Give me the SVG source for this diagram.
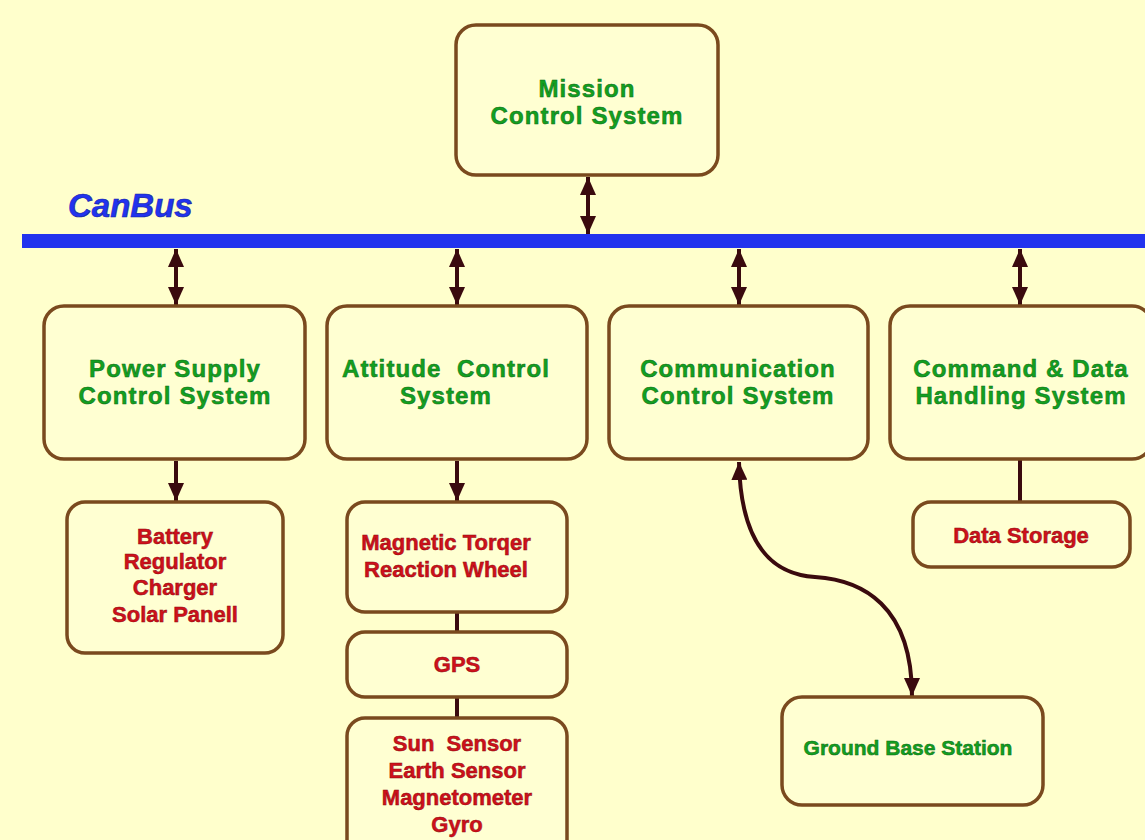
<svg xmlns="http://www.w3.org/2000/svg" width="1145" height="840" viewBox="0 0 1145 840">
<defs>
<style>
.box{fill:#FFFFD2;stroke:#7A4A1E;stroke-width:3.5}
.g{fill:#12A020;stroke:#0B6A14;stroke-width:0.5;font-family:"Liberation Sans",Arial,sans-serif;font-weight:bold;font-size:24px;letter-spacing:1.1px;text-anchor:middle}
.r{fill:#D0101A;stroke:#8A0A10;stroke-width:0.5;font-family:"Liberation Sans",Arial,sans-serif;font-weight:bold;font-size:22px;text-anchor:middle}
.c{stroke:#3A0A0E;stroke-width:4;fill:none}
</style>
<marker id="ah" markerUnits="userSpaceOnUse" viewBox="0 0 18 16" refX="18" refY="8" markerWidth="18" markerHeight="16" orient="auto-start-reverse">
<path d="M0 0 L18 8 L0 16 Z" fill="#3A0A0E"/>
</marker>
</defs>
<rect x="0" y="0" width="1145" height="840" fill="#FFFFCC"/>

<g id="canbus">
<rect x="22" y="234" width="1123" height="14" fill="#2233EE"/>
<text x="68" y="217" font-family="Liberation Sans,Arial,sans-serif" font-weight="bold" font-style="italic" font-size="33" fill="#2233EE" stroke="#1020A0" stroke-width="0.6">CanBus</text>
</g>

<g id="connectors">
<line class="c" x1="588" y1="177" x2="588" y2="234" marker-start="url(#ah)" marker-end="url(#ah)"/>
<line class="c" x1="176" y1="249" x2="176" y2="305" marker-start="url(#ah)" marker-end="url(#ah)"/>
<line class="c" x1="457" y1="249" x2="457" y2="305" marker-start="url(#ah)" marker-end="url(#ah)"/>
<line class="c" x1="739" y1="249" x2="739" y2="305" marker-start="url(#ah)" marker-end="url(#ah)"/>
<line class="c" x1="1020" y1="249" x2="1020" y2="305" marker-start="url(#ah)" marker-end="url(#ah)"/>
<line class="c" x1="176" y1="461" x2="176" y2="501" marker-end="url(#ah)"/>
<line class="c" x1="457" y1="461" x2="457" y2="501" marker-end="url(#ah)"/>
<line class="c" x1="457" y1="612" x2="457" y2="632"/>
<line class="c" x1="457" y1="697" x2="457" y2="718"/>
<line class="c" x1="1020" y1="460" x2="1020" y2="502"/>
<path class="c" stroke-width="3" d="M739 462 C741 560 785 575 815 577 C862 580 912 605 912 696" marker-start="url(#ah)" marker-end="url(#ah)"/>
</g>

<g id="mission">
<rect class="box" x="456" y="25" width="262" height="150" rx="20"/>
<text class="g" x="587" y="97">Mission</text>
<text class="g" x="587" y="124">Control System</text>
</g>

<g id="power">
<rect class="box" x="44" y="306" width="261" height="153" rx="20"/>
<text class="g" x="175" y="377">Power Supply</text>
<text class="g" x="175" y="404">Control System</text>
</g>

<g id="attitude">
<rect class="box" x="327" y="306" width="260" height="153" rx="20"/>
<text class="g" x="446" y="377" xml:space="preserve">Attitude  Control</text>
<text class="g" x="446" y="404">System</text>
</g>

<g id="communication">
<rect class="box" x="609" y="306" width="259" height="153" rx="20"/>
<text class="g" x="738" y="377">Communication</text>
<text class="g" x="738" y="404">Control System</text>
</g>

<g id="command">
<rect class="box" x="890" y="306" width="262" height="153" rx="20"/>
<text class="g" x="1021" y="377">Command &amp; Data</text>
<text class="g" x="1021" y="404">Handling System</text>
</g>

<g id="battery">
<rect class="box" x="67" y="502" width="216" height="151" rx="18"/>
<text class="r" x="175" y="544">Battery</text>
<text class="r" x="175" y="569">Regulator</text>
<text class="r" x="175" y="595">Charger</text>
<text class="r" x="175" y="622">Solar Panell</text>
</g>

<g id="magnetic">
<rect class="box" x="347" y="502" width="220" height="110" rx="18"/>
<text class="r" x="446" y="550">Magnetic Torqer</text>
<text class="r" x="446" y="577">Reaction Wheel</text>
</g>

<g id="gps">
<rect class="box" x="347" y="632" width="220" height="65" rx="18"/>
<text class="r" x="457" y="672">GPS</text>
</g>

<g id="sensors">
<rect class="box" x="347" y="718" width="220" height="140" rx="18"/>
<text class="r" x="457" y="751" xml:space="preserve">Sun  Sensor</text>
<text class="r" x="457" y="778">Earth Sensor</text>
<text class="r" x="457" y="805">Magnetometer</text>
<text class="r" x="457" y="832">Gyro</text>
</g>

<g id="datastorage">
<rect class="box" x="913" y="502" width="217" height="65" rx="18"/>
<text class="r" x="1021" y="543">Data Storage</text>
</g>

<g id="ground">
<rect class="box" x="782" y="697" width="261" height="108" rx="20"/>
<text class="g" x="908" y="755" style="font-size:21px;letter-spacing:0">Ground Base Station</text>
</g>
</svg>
